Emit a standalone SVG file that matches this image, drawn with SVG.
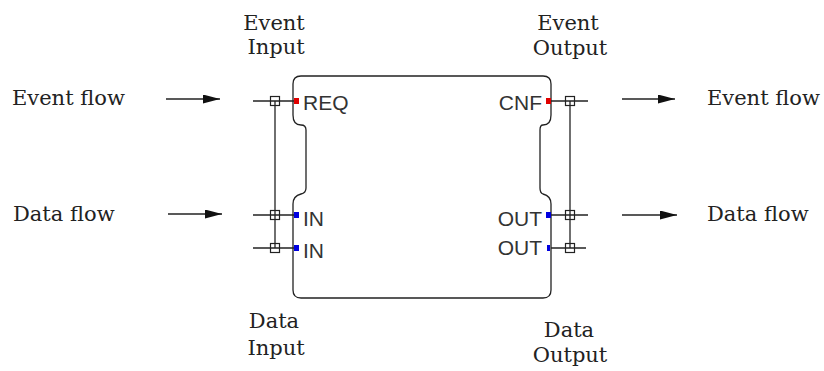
<svg xmlns="http://www.w3.org/2000/svg" width="824" height="371" viewBox="0 0 824 371">
<style>
.lbl{font-family:"DejaVu Serif","Liberation Serif",serif;font-size:21px;fill:#222}
.port{font-family:"Liberation Sans",Arial,sans-serif;font-size:21px;fill:#333}
.ln{stroke:#222;stroke-width:1.3;fill:none}
.box{stroke:#222;stroke-width:1.2;fill:none}
.ev{fill:#e00000}
.dt{fill:#0000e0}
</style>
<defs>
<marker id="ah" markerWidth="17" markerHeight="9" refX="17" refY="4.5" orient="auto" markerUnits="userSpaceOnUse">
<path d="M0,0 L17,4.5 L0,9 Z" fill="#111"/>
</marker>
</defs>
<rect width="824" height="371" fill="#fff"/>
<g id="block">
<path class="ln" d="M301,76 L543,76 Q551,76 551,84 L551,115 Q551,125 543,125 Q540,125 540,130 L540,188 Q540,193 543,194 Q551,196 551,204 L551,290 Q551,298 543,298 L301,298 Q293,298 293,290 L293,204 Q293,196 301,194 Q306,193 306,188 L306,130 Q306,125 301,125 Q293,125 293,115 L293,84 Q293,76 301,76 Z" fill="#fff" stroke-width="1.4"/>
<text class="port" x="303" y="110">REQ</text>
<text class="port" x="303" y="226">IN</text>
<text class="port" x="303" y="258">IN</text>
<text class="port" x="542" y="110" text-anchor="end">CNF</text>
<text class="port" x="542" y="226" text-anchor="end">OUT</text>
<text class="port" x="542" y="255" text-anchor="end">OUT</text>
<rect class="ev" x="294" y="98" width="5" height="6"/>
<rect class="dt" x="294" y="212" width="5" height="6"/>
<rect class="dt" x="294" y="245" width="5" height="6"/>
<rect class="ev" x="546" y="98" width="5" height="6"/>
<rect class="dt" x="546" y="212" width="5" height="6"/>
<rect class="dt" x="547" y="245" width="3" height="6"/>
</g>
<g id="connectors">
<line class="ln" x1="253" y1="101" x2="294" y2="101"/>
<line class="ln" x1="253" y1="215" x2="294" y2="215"/>
<line class="ln" x1="253" y1="248" x2="294" y2="248"/>
<line class="ln" x1="275" y1="101" x2="275" y2="248"/>
<rect class="box" x="270.5" y="96.5" width="9" height="9"/>
<rect class="box" x="270.5" y="210.5" width="9" height="9"/>
<rect class="box" x="270.5" y="243.5" width="9" height="9"/>
<line class="ln" x1="551" y1="101" x2="588" y2="101"/>
<line class="ln" x1="551" y1="215" x2="588" y2="215"/>
<line class="ln" x1="551" y1="248" x2="586" y2="248"/>
<line class="ln" x1="570" y1="101" x2="570" y2="248"/>
<rect class="box" x="565.5" y="96.5" width="9" height="9"/>
<rect class="box" x="565.5" y="210.5" width="9" height="9"/>
<rect class="box" x="565.5" y="243.5" width="9" height="9"/>
<line class="ln" x1="166" y1="99" x2="220" y2="99" marker-end="url(#ah)"/>
<line class="ln" x1="168" y1="214" x2="222" y2="214" marker-end="url(#ah)"/>
<line class="ln" x1="622" y1="99" x2="675" y2="99" marker-end="url(#ah)"/>
<line class="ln" x1="622" y1="215" x2="677" y2="215" marker-end="url(#ah)"/>
</g>
<g id="labels">
<text class="lbl" x="12" y="105">Event flow</text>
<text class="lbl" x="13" y="221">Data flow</text>
<text class="lbl" x="707" y="105">Event flow</text>
<text class="lbl" x="707" y="221">Data flow</text>
<text class="lbl" x="274" y="30" text-anchor="middle">Event</text>
<text class="lbl" x="276" y="54" text-anchor="middle">Input</text>
<text class="lbl" x="568" y="30" text-anchor="middle">Event</text>
<text class="lbl" x="570" y="55" text-anchor="middle">Output</text>
<text class="lbl" x="274" y="328" text-anchor="middle">Data</text>
<text class="lbl" x="276" y="355" text-anchor="middle">Input</text>
<text class="lbl" x="569" y="337" text-anchor="middle">Data</text>
<text class="lbl" x="570" y="362" text-anchor="middle">Output</text>
</g>
</svg>
